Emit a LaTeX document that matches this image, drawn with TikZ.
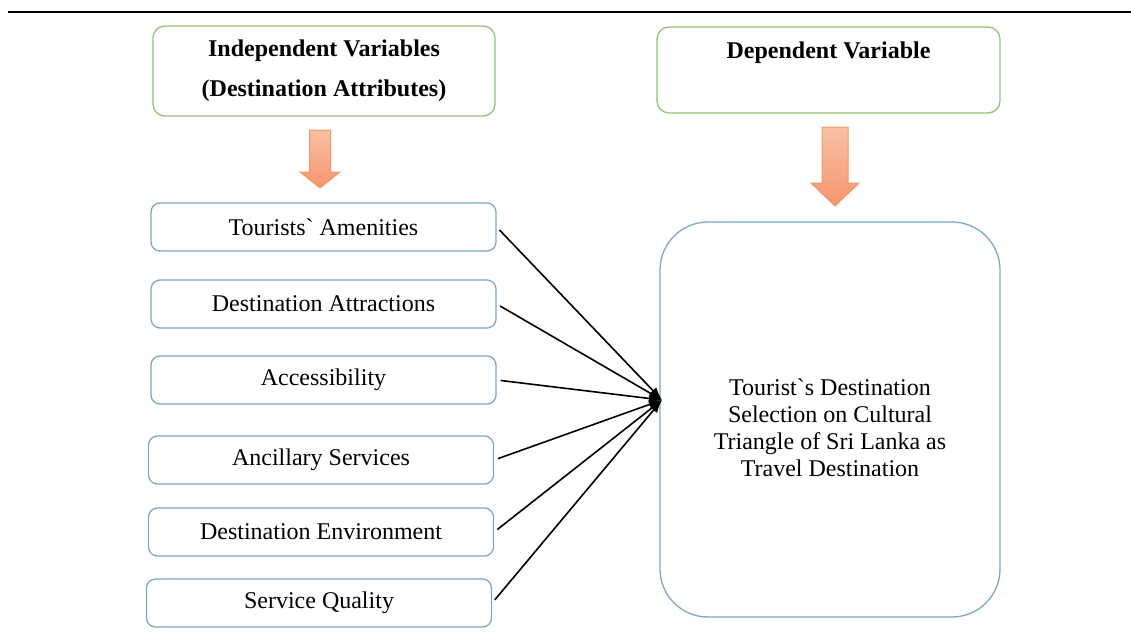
\documentclass[tikz,border=0pt]{standalone}
\usepackage{fontspec}
\setmainfont{Liberation Serif}
\usepackage{tikz}
\usetikzlibrary{arrows,arrows.meta,positioning}

\definecolor{boxblue}{RGB}{125,165,205}
\definecolor{boxgreen}{RGB}{150,195,115}
\definecolor{arrowline}{RGB}{242,150,100}
\definecolor{arrowtop}{RGB}{247,192,165}
\definecolor{arrowbot}{RGB}{247,150,110}

\begin{document}
\begin{tikzpicture}[x=1pt,y=-1pt]
  \tikzset{head box/.style={draw=boxgreen,line width=1.3pt,rounded corners=12pt,minimum width=#1,minimum height=90pt,inner sep=0pt,align=center,font=\fontsize{24}{40}\selectfont\bfseries},
           attr box/.style={draw=boxblue,line width=1.3pt,rounded corners=9pt,minimum width=345pt,minimum height=48pt,inner sep=0pt,font=\fontsize{24}{27}\selectfont},
           fat arrow/.style={draw=arrowline,line width=1pt,top color=arrowtop,bottom color=arrowbot},
           conn/.style={-{Latex[length=13pt,width=9pt]},line width=1.6pt,shorten <=4pt}}
  \useasboundingbox (0,0) rectangle (1131,637);
  \draw[line width=2pt] (8,12) -- (1131,12);

  \node (iv) [head box=342pt] at (324,71) {Independent Variables\\(Destination Attributes)};
  \node (dv) [head box=343pt, minimum height=86pt] at (828.5,70) {};
  \node (dvtext) [anchor=base,font=\fontsize{24}{27}\selectfont\bfseries] at (828.5,58) {Dependent Variable};

  \draw[fat arrow] (309.5,130) -- (330.5,130) -- (330.5,172) -- (340,172) -- (320,188) -- (300,172) -- (309.5,172) -- cycle;
  \draw[fat arrow] (822,127) -- (848,127) -- (848,183) -- (859,183) -- (835,206) -- (811,183) -- (822,183) -- cycle;

  \node (t1) [attr box] at (323.5,227) {Tourists\textasciigrave{} Amenities};
  \node (t2) [attr box] at (323.5,304) {Destination Attractions};
  \node (t3) [attr box] at (323.5,380) {Accessibility};
  \node (t4) [attr box] at (321,460) {Ancillary Services};
  \node (t5) [attr box] at (321,532) {Destination Environment};
  \node (t6) [attr box] at (319,603) {Service Quality};

  \node (sel) [draw=boxblue,line width=1.3pt,rounded corners=48pt,minimum width=340pt,minimum height=395pt] at (830,419.5) {};
  \node (seltext) [align=center,font=\fontsize{24}{27}\selectfont] at (830,428)
    {Tourist\textasciigrave{}s Destination\\Selection on Cultural\\Triangle of Sri Lanka as\\Travel Destination};
  \coordinate (hub) at (662,400);

  \foreach \n in {t1,t2,t3,t4,t5,t6}
    \draw[conn] (\n.east) -- (hub);
\end{tikzpicture}
\end{document}
